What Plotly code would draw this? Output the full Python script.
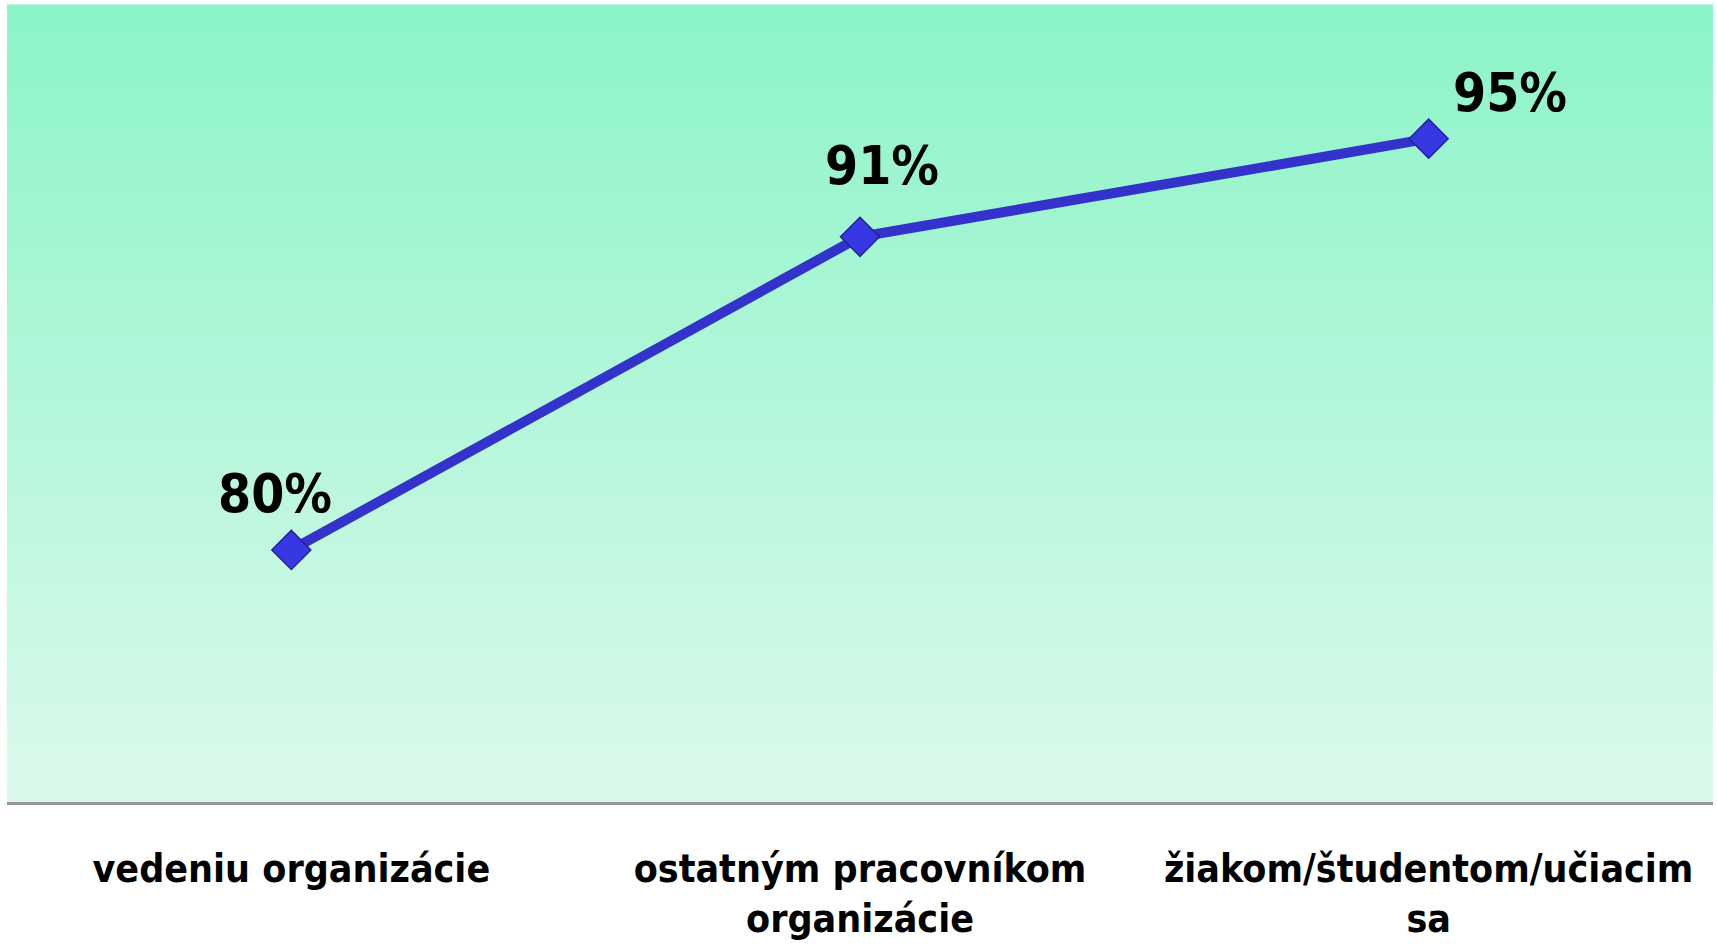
import plotly.graph_objects as go

# ---- data ----
categories = ["vedeniu organizácie", "ostatným pracovníkom<br>organizácie", "žiakom/študentom/učiacim<br>sa"]
values = [0.795, 0.913, 0.950]
value_labels = ["80%", "91%", "95%"]

# label offsets (px) relative to each point
label_dx = [-16, 22, 81]
label_dy = [56, 71, 46]

FONT = "DejaVu Sans Condensed, Lato, sans-serif"

fig = go.Figure()

fig.add_trace(go.Scatter(
    x=categories, y=values,
    mode="lines+markers",
    line=dict(color="rgb(51,51,204)", width=10),
    marker=dict(symbol="diamond", size=30, color="rgb(55,55,228)",
                line=dict(color="rgb(35,35,150)", width=1.5)),
    hoverinfo="skip",
    showlegend=False,
))

# gradient background of plot area
top = (140, 244, 200)
bot = (219, 249, 235)
n = 80
shapes = []
for i in range(n):
    t = i / (n - 1)
    c = tuple(round(bot[k] + (top[k] - bot[k]) * t) for k in range(3))
    shapes.append(dict(type="rect", xref="paper", yref="paper",
                       x0=0, x1=1, y0=i / n, y1=(i + 1) / n + 0.002,
                       fillcolor=f"rgb{c}", line=dict(width=0), layer="below"))

annotations = []
for cat, v, lab, dx, dy in zip(categories, values, value_labels, label_dx, label_dy):
    annotations.append(dict(x=cat, y=v, xref="x", yref="y", text=lab,
                            showarrow=False, xshift=dx, yshift=dy,
                            xanchor="center", yanchor="middle",
                            font=dict(family=FONT, size=53, color="black", weight="bold")))

fig.update_layout(
    width=1717, height=946,
    margin=dict(l=7, r=4, t=6, b=144),
    paper_bgcolor="white",
    plot_bgcolor="rgba(0,0,0,0)",
    shapes=shapes,
    annotations=annotations,
    xaxis=dict(type="category", range=[-0.5, 2.5], showgrid=False, zeroline=False,
               showline=True, linecolor="rgb(150,150,150)", linewidth=2.5,
               ticks="", ticklabelstandoff=30, automargin=False,
               tickfont=dict(family=FONT, size=39, color="black", weight="bold"),
               fixedrange=True),
    yaxis=dict(range=[0.70, 1.00], visible=False, showgrid=False, zeroline=False,
               fixedrange=True, automargin=False),
)

fig.write_html("out.html", config={"displayModeBar": False},
               post_script="document.body.style.margin='0';")
